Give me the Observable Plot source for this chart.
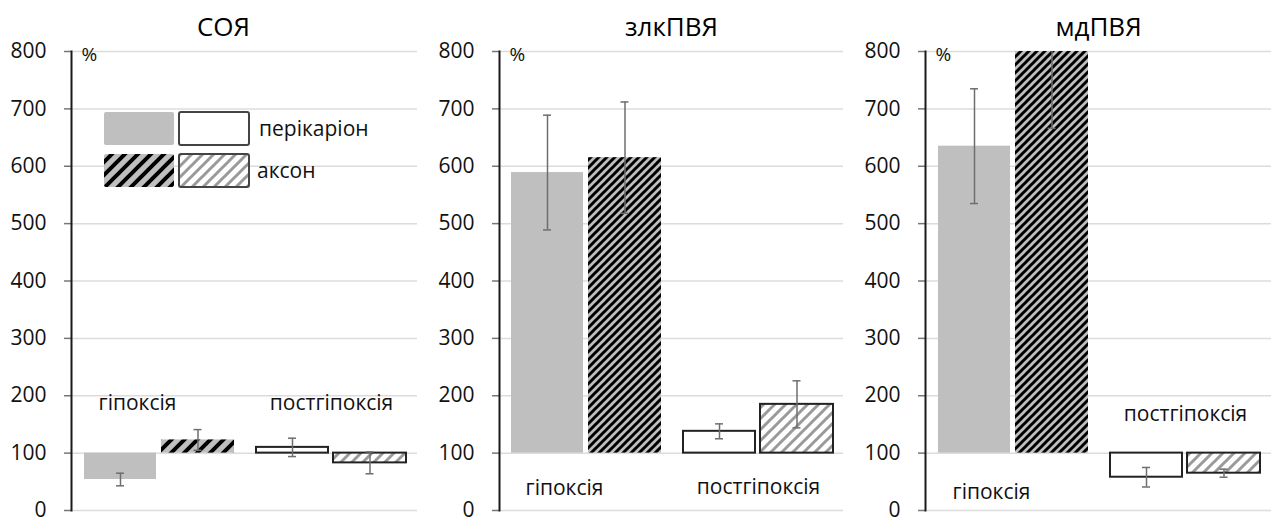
<!DOCTYPE html>
<html>
<head>
<meta charset="utf-8">
<script src="https://cdn.jsdelivr.net/npm/d3@7"></script>
<script src="https://cdn.jsdelivr.net/npm/@observablehq/plot@0.6"></script>
<style>
  html, body { margin: 0; padding: 0; background: #fff; }
  #root { position: relative; width: 1271px; height: 518px; overflow: hidden; font-family: "Open Sans", sans-serif; }
  .panel { position: absolute; top: 0; }
</style>
</head>
<body>
<div id="root"></div>
<script>
// ---------- data ----------
const panelTitles = ["СОЯ", "злкПВЯ", "мдПВЯ"];
const groups = ["гіпоксія", "постгіпоксія"];
const seriesNames = ["перікаріон", "аксон"];
const baseline = 100;
const yTicks = [0, 100, 200, 300, 400, 500, 600, 700, 800];

// values per panel, in the order of groups
const perikaryonValues = [[54, 110], [589, 138], [635, 58]];
const perikaryonErrors = [[11, 16], [100, 13], [100, 17]];
const axonValues = [[123, 83], [615, 185], [870, 65]];
const axonErrors = [[18, 19], [97, 41], [204, 7]];

// group label heights (in y units) per panel
const groupLabelY = [[187, 187], [38, 40], [31, 167]];

// ---------- layout / style ----------
const layout = [
  {left: 0, width: 420, marginLeft: 71, marginRight: 3, titleDx: -21, hatch: "hatchBlackWide"},
  {left: 420, width: 425, marginLeft: 79, marginRight: 2, titleDx: 0, hatch: "hatchBlack"},
  {left: 840, width: 431, marginLeft: 85, marginRight: 0, titleDx: 0, hatch: "hatchBlack"}
];
const FONT = "'Open Sans', sans-serif";
const TXT = "#111";

// shared pattern defs
const root = d3.select("#root");
const defsSvg = root.append("svg").attr("width", 0).attr("height", 0)
  .style("position", "absolute").style("left", 0).style("top", 0);
const defs = defsSvg.append("defs");
function hatch(id, size, bg, fg, sw) {
  const p = defs.append("pattern").attr("id", id).attr("patternUnits", "userSpaceOnUse")
    .attr("width", size).attr("height", size);
  p.append("rect").attr("width", size).attr("height", size).attr("fill", bg);
  const s = size, h = size / 2;
  p.append("path")
    .attr("d", `M0,${s} L${s},0 M${-h},${h} L${h},${-h} M${h},${s + h} L${s + h},${h}`)
    .attr("stroke", fg).attr("stroke-width", sw).attr("stroke-linecap", "square");
}
hatch("hatchBlackWide", 13, "#bfbfbf", "#000", 4);
hatch("hatchBlack", 8, "#bfbfbf", "#000", 3);
hatch("hatchGrey", 11, "#ffffff", "#9a9a9a", 3);

function fillFor(series, gi, hatchId) {
  if (series === seriesNames[0]) return gi === 0 ? "#bfbfbf" : "#ffffff";
  return gi === 0 ? `url(#${hatchId})` : "url(#hatchGrey)";
}

panelTitles.forEach((title, pi) => {
  const L = layout[pi];
  const rows = [];
  groups.forEach((g, gi) => {
    rows.push({group: g, gi, series: seriesNames[0], key: g + "|" + seriesNames[0],
      value: perikaryonValues[pi][gi], err: perikaryonErrors[pi][gi]});
    rows.push({group: g, gi, series: seriesNames[1], key: g + "|" + seriesNames[1],
      value: axonValues[pi][gi], err: axonErrors[pi][gi]});
  });
  rows.forEach(r => {
    r.fill = fillFor(r.series, r.gi, L.hatch);
    r.stroke = r.gi === 0 ? "none" : "#222";
  });
  const keys = rows.map(r => r.key);
  const peri = rows.filter(r => r.series === seriesNames[0]);
  const axon = rows.filter(r => r.series === seriesNames[1]);
  const labels = groups.map((g, gi) => ({key: g + "|" + seriesNames[0], text: g, y: groupLabelY[pi][gi], gi}));

  const errMarks = (data, dx) => [
    Plot.ruleX(data, {x: "key", y1: d => d.value - d.err, y2: d => d.value + d.err, dx,
      stroke: "#6e6e6e", strokeWidth: 1.5, clip: true}),
    Plot.tickY(data, {x: "key", y: d => d.value + d.err, dx, insetLeft: 39, insetRight: 39,
      stroke: "#6e6e6e", strokeWidth: 1.5, clip: true}),
    Plot.tickY(data, {x: "key", y: d => d.value - d.err, dx, insetLeft: 39, insetRight: 39,
      stroke: "#6e6e6e", strokeWidth: 1.5, clip: true})
  ];

  const chart = Plot.plot({
    width: L.width,
    height: 518,
    marginLeft: L.marginLeft,
    marginRight: L.marginRight,
    marginTop: 51,
    marginBottom: 8,
    style: {fontFamily: FONT, background: "transparent", overflow: "visible"},
    x: {type: "band", domain: keys, padding: 0, axis: null},
    y: {domain: [0, 800], axis: null},
    color: {type: "identity"},
    marks: [
      Plot.ruleY(yTicks, {y: d => d, stroke: "#dcdcdc", strokeWidth: 1.5}),
      Plot.axisY({ticks: yTicks, tickSize: 7, tickFormat: () => "", color: "#777", strokeWidth: 1.5}),
      Plot.axisY({ticks: yTicks, tickSize: 0, tickPadding: 25, fontSize: 21, color: TXT}),
      Plot.rectY(peri, {x: "key", y1: () => baseline, y2: "value", fill: "fill", stroke: "stroke",
        strokeWidth: 2, insetLeft: 12, insetRight: 2, clip: true}),
      Plot.rectY(axon, {x: "key", y1: () => baseline, y2: "value", fill: "fill", stroke: "stroke",
        strokeWidth: 2, insetLeft: 3, insetRight: 10, clip: true}),
      ...errMarks(peri, 5),
      ...errMarks(axon, -3.5),
      Plot.frame({anchor: "left", stroke: "#1a1a1a", strokeWidth: 2}),
      Plot.text(labels.filter(d => d.gi === 0), {x: "key", y: "y", text: "text", dx: 22, fontSize: 21, fill: TXT}),
      Plot.text(labels.filter(d => d.gi === 1), {x: "key", y: "y", text: "text", dx: 44, fontSize: 21, fill: TXT}),
      Plot.text([title], {frameAnchor: "top", lineAnchor: "middle", dy: -24, dx: L.titleDx, fontSize: 26, fill: "#000"}),
      Plot.text(["%"], {frameAnchor: "top-left", lineAnchor: "middle", dx: 10, dy: 3, textAnchor: "start", fontSize: 19, fill: TXT})
    ]
  });
  const div = root.append("div").attr("class", "panel").style("left", L.left + "px");
  div.node().appendChild(chart);
});

// ---------- legend (panel 1) ----------
const legend = root.append("svg").attr("width", 320).attr("height", 80)
  .style("position", "absolute").style("left", "103px").style("top", "111px")
  .style("font-family", FONT);
const swatches = [
  {row: 0, col: 0, fill: "#bfbfbf", stroke: "none"},
  {row: 0, col: 1, fill: "#ffffff", stroke: "#444"},
  {row: 1, col: 0, fill: "url(#hatchBlackWide)", stroke: "none"},
  {row: 1, col: 1, fill: "url(#hatchGrey)", stroke: "#444"}
];
legend.selectAll("rect").data(swatches).join("rect")
  .attr("x", d => 1 + d.col * 75).attr("y", d => 1 + d.row * 42)
  .attr("width", 70).attr("height", 33).attr("rx", 2)
  .attr("fill", d => d.fill).attr("stroke", d => d.stroke).attr("stroke-width", 2);
legend.selectAll("text").data(seriesNames).join("text")
  .attr("x", (d, i) => i === 0 ? 156 : 154).attr("y", (d, i) => 18 + i * 42).attr("dy", "0.35em")
  .attr("font-size", 21).attr("fill", TXT).text(d => d);
</script>
</body>
</html>
